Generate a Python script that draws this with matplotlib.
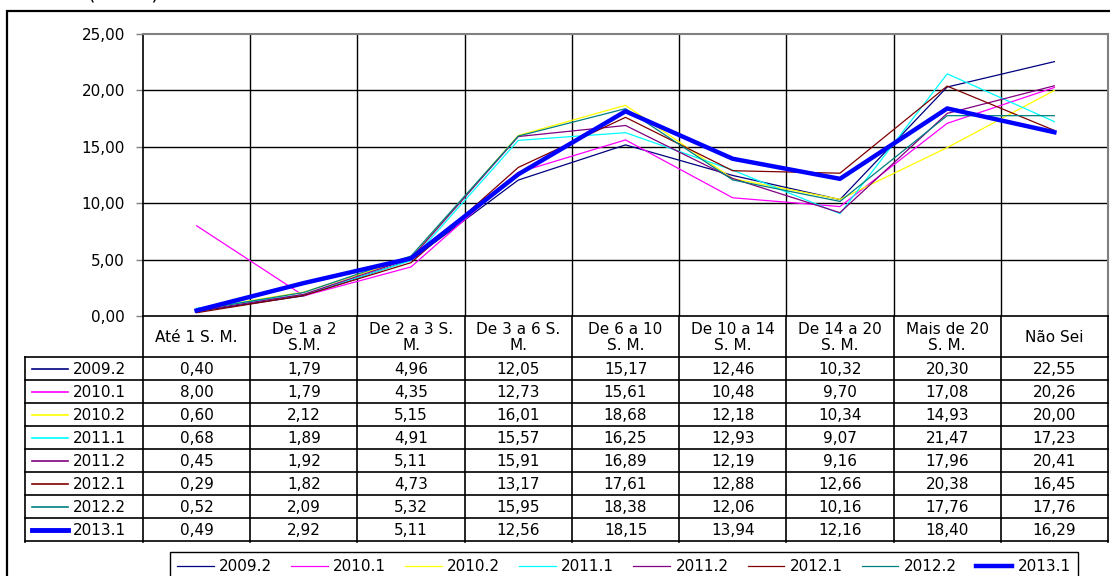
import numpy as np
import matplotlib
matplotlib.use("Agg")
import matplotlib.pyplot as plt
from matplotlib.patches import Rectangle

categorias = ["Até 1 S. M.", "De 1 a 2 S.M.", "De 2 a 3 S. M.", "De 3 a 6 S. M.",
              "De 6 a 10 S. M.", "De 10 a 14 S. M.", "De 14 a 20 S. M.",
              "Mais de 20 S. M.", "Não Sei"]
rotulos = ["Até 1 S. M.", "De 1 a 2\nS.M.", "De 2 a 3 S.\nM.", "De 3 a 6 S.\nM.",
           "De 6 a 10\nS. M.", "De 10 a 14\nS. M.", "De 14 a 20\nS. M.",
           "Mais de 20\nS. M.", "Não Sei"]
semestres = ["2009.2", "2010.1", "2010.2", "2011.1", "2011.2", "2012.1", "2012.2", "2013.1"]

s2009_2 = [0.40, 1.79, 4.96, 12.05, 15.17, 12.46, 10.32, 20.30, 22.55]
s2010_1 = [8.00, 1.79, 4.35, 12.73, 15.61, 10.48, 9.70, 17.08, 20.26]
s2010_2 = [0.60, 2.12, 5.15, 16.01, 18.68, 12.18, 10.34, 14.93, 20.00]
s2011_1 = [0.68, 1.89, 4.91, 15.57, 16.25, 12.93, 9.07, 21.47, 17.23]
s2011_2 = [0.45, 1.92, 5.11, 15.91, 16.89, 12.19, 9.16, 17.96, 20.41]
s2012_1 = [0.29, 1.82, 4.73, 13.17, 17.61, 12.88, 12.66, 20.38, 16.45]
s2012_2 = [0.52, 2.09, 5.32, 15.95, 18.38, 12.06, 10.16, 17.76, 17.76]
s2013_1 = [0.49, 2.92, 5.11, 12.56, 18.15, 13.94, 12.16, 18.40, 16.29]
series = [s2009_2, s2010_1, s2010_2, s2011_1, s2011_2, s2012_1, s2012_2, s2013_1]

cores = ["#000080", "#ff00ff", "#ffff00", "#00ffff", "#800080", "#800000", "#008080", "#0000ff"]
larguras = [0.9, 0.9, 0.9, 0.9, 0.9, 0.9, 0.9, 3.2]

W, H = 1110, 576
plt.rcParams['font.family'] = ['DejaVu Sans']
fs = 11


def caixa(x0, y0, x1, y1):
    # retangulo em pixels (origem no topo) -> coordenadas da figura
    return [x0 / W, 1 - y1 / H, (x1 - x0) / W, (y1 - y0) / H]


fig = plt.figure(figsize=(W / 100, H / 100), dpi=100)

# grafico de linhas
ax = fig.add_axes(caixa(143, 34, 1108, 316))
x = np.arange(len(categorias))
linhas = []
for serie, cor, lw, nome in zip(series, cores, larguras, semestres):
    l, = ax.plot(x, serie, color=cor, lw=lw, label=nome, zorder=3)
    linhas.append(l)
ax.set_xlim(-0.5, len(categorias) - 0.5)
ax.set_ylim(0, 25)
ticks = np.arange(0, 26, 5)
ax.set_yticks(ticks)
ax.set_yticklabels([f"{v:.2f}".replace(".", ",") for v in ticks], fontsize=fs)
ax.set_xticks([])
ax.tick_params(axis="y", length=5, width=1, pad=8, color="#808080")
for b in np.arange(0.5, len(categorias) - 0.5):
    ax.axvline(b, color="black", lw=1, zorder=1)
for v in ticks[1:-1]:
    ax.axhline(v, color="black", lw=1, zorder=1)
for lado in ["top", "right"]:
    ax.spines[lado].set_color("#808080")
    ax.spines[lado].set_linewidth(1.5)
for lado in ["left", "bottom"]:
    ax.spines[lado].set_color("black")
    ax.spines[lado].set_linewidth(1.2)

# tabela de dados
ppu = (1108 - 143) / len(categorias)
xe = -0.5 - (143 - 25) / ppu
at = fig.add_axes(caixa(25, 316, 1108, 542))
at.set_xlim(xe, len(categorias) - 0.5)
at.set_ylim(226, 0)
at.axis("off")
hcab, hlin = 41, 23
for b in np.arange(-0.5, len(categorias)):
    at.plot([b, b], [0, 226], color="black", lw=1.2, clip_on=False)
at.plot([xe, xe], [hcab, 226], color="black", lw=1.2, clip_on=False)
for k in range(len(semestres) + 1):
    y = hcab + hlin * k
    at.plot([xe, len(categorias) - 0.5], [y, y], color="black", lw=1.2, clip_on=False)
for i, r in enumerate(rotulos):
    at.text(i, hcab / 2 + 1, r, ha="center", va="center", fontsize=fs, linespacing=1.0)
for k, (serie, cor, lw, nome) in enumerate(zip(series, cores, larguras, semestres)):
    yc = hcab + hlin * k + hlin / 2
    at.plot([xe + 7 / ppu, xe + 43 / ppu], [yc, yc], color=cor, lw=lw + 0.3, clip_on=False)
    at.text(xe + 48 / ppu, yc + 1, nome, ha="left", va="center", fontsize=fs)
    for i, v in enumerate(serie):
        at.text(i, yc + 1, f"{v:.2f}".replace(".", ","), ha="center", va="center", fontsize=fs)

# legenda
leg = fig.legend(linhas, semestres, loc="upper left", bbox_to_anchor=(170 / W, 1 - 552 / H),
                 ncol=len(semestres), frameon=True, fancybox=False, edgecolor="black",
                 framealpha=1, borderaxespad=0, handlelength=2.4, handletextpad=0.35,
                 columnspacing=1.25, fontsize=fs, borderpad=0.45)
leg.get_frame().set_linewidth(1.0)

# moldura externa e titulo cortado
fig.add_artist(Rectangle((7 / W, -0.1), (1120 - 7) / W, 1.1 - 11 / H, transform=fig.transFigure,
                         fill=False, ec="black", lw=1.6, clip_on=False))
fig.text(88 / W, 1.0, "(em %)", fontsize=14, va="baseline")

fig.savefig("out.png", dpi=100)
